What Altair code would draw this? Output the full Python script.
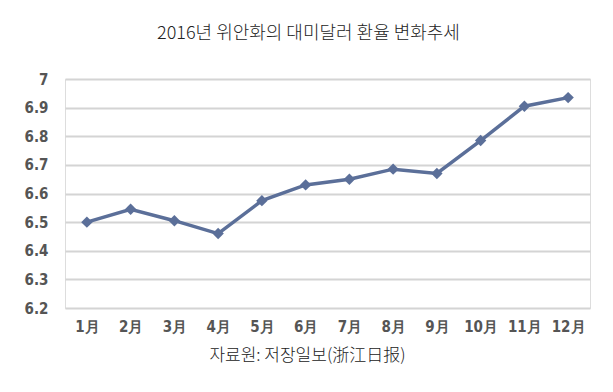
import altair as alt
import pandas as pd

months = ["1月", "2月", "3月", "4月", "5月", "6月", "7月", "8月", "9月", "10月", "11月", "12月"]
rates = [6.50, 6.545, 6.505, 6.46, 6.575, 6.63, 6.65, 6.685, 6.67, 6.785, 6.905, 6.935]
y_ticks = [6.2, 6.3, 6.4, 6.5, 6.6, 6.7, 6.8, 6.9, 7.0]

df = pd.DataFrame({"month": months, "rate": rates})

label_font = "Liberation Sans Narrow, DejaVu Sans Condensed, Liberation Sans, sans-serif"
kr_font = "Noto Sans CJK KR"

x = alt.X(
    "month:N", sort=months,
    scale=alt.Scale(type="point", padding=0.5),
    axis=alt.Axis(
        title="자료원: 저장일보(浙江日报)", titleFont=kr_font, titleFontSize=17,
        titleFontWeight=300, titleColor="#222222",
        titleX=242, titleY=47, titleAlign="center", titleBaseline="middle",
        labelFont=label_font, labelFontSize=15, labelFontWeight="bold",
        labelColor="#555555", labelPadding=11, labelAngle=0,
        domain=False, ticks=False, grid=False,
    ),
)
y = alt.Y(
    "rate:Q",
    scale=alt.Scale(domain=[6.2, 7.0], nice=False, zero=False),
    axis=alt.Axis(
        title=None, values=y_ticks, format="~g",
        labelFont=label_font, labelFontSize=15, labelFontWeight="bold",
        labelColor="#555555", labelPadding=17,
        domain=False, ticks=False, grid=True, gridColor="#d4d4d4", gridWidth=2,
    ),
)

line = alt.Chart(df).mark_line(color="#5b6f99", strokeWidth=3.5).encode(x=x, y=y)
pts = alt.Chart(df).mark_point(shape="diamond", filled=True, size=130, color="#5b6f99", opacity=1).encode(x=x, y=y)

chart = (line + pts).properties(
    width=525, height=229,
    autosize=alt.AutoSizeParams(type="none"),
    padding={"left": 57, "top": 71, "right": 15, "bottom": 76},
    title=alt.TitleParams(
        "2016년 위안화의 대미달러 환율 변화추세", font=kr_font, fontSize=18,
        fontWeight=300, color="#222222", anchor="middle", dx=-19, offset=29,
    ),
).configure_view(stroke=None).configure(background="white")

chart.save("out.html", embed_options={"renderer": "svg", "actions": False})
